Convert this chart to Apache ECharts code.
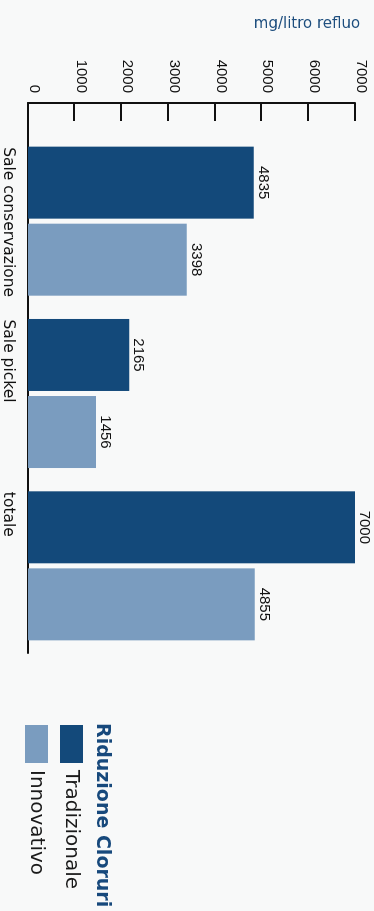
<!DOCTYPE html>
<html>
<head>
<meta charset="utf-8">
<script src="https://cdn.jsdelivr.net/npm/echarts@6/dist/echarts.min.js"></script>
<style>
html,body{margin:0;padding:0;background:#f8f9f9;overflow:hidden;width:374px;height:911px;}
#chart{position:absolute;left:0;top:0;width:911px;height:374px;transform-origin:0 0;transform:translate(374px,0) rotate(90deg);}
</style>
</head>
<body>
<div id="chart"></div>
<script>
var categories = ['Sale conservazione', 'Sale pickel', 'totale'];
var tradizionale = [4835, 2165, 7000];
var innovativo = [3398, 1456, 4855];
var seriesNames = ['Tradizionale', 'Innovativo'];
var titleText = 'Riduzione Cloruri';
var unitText = 'mg/litro refluo';
var valueMin = 0, valueMax = 7000, valueStep = 1000;

var TXT = 'DejaVu Sans';
var NUM = 'Liberation Sans';
var chart = echarts.init(document.getElementById('chart'), null, {renderer: 'canvas'});
chart.setOption({
  backgroundColor: '#f8f9f9',
  animation: false,
  title: {
    text: titleText, left: 723, top: 263, padding: 0,
    textStyle: {fontFamily: TXT, fontSize: 19, fontWeight: 'bold', color: '#17497c'}
  },
  legend: {
    data: seriesNames, orient: 'vertical', left: 725, top: 291, padding: 0,
    itemWidth: 38, itemHeight: 23, itemGap: 12, icon: 'rect', selectedMode: false,
    textStyle: {fontFamily: TXT, fontSize: 20, color: '#1a1a1a', lineHeight: 23, padding: [0, 0, 0, 2]}
  },
  graphic: [{
    type: 'text', x: 24, y: 67, rotation: Math.PI / 2,
    style: {text: unitText, fontFamily: TXT, fontSize: 15, fill: '#1d4e7e', align: 'center', verticalAlign: 'middle'}
  }],
  grid: [
    {left: 103, right: 258, top: 19, bottom: 28},
    {left: 135, right: 259, top: 19, bottom: 28}
  ],
  xAxis: [
    {gridIndex: 0, type: 'value', min: 0, max: 1,
     axisLine: {show: true, lineStyle: {color: '#111', width: 2}},
     axisTick: {show: false}, axisLabel: {show: false}, splitLine: {show: false}},
    {gridIndex: 1, type: 'category', data: categories,
     axisLine: {show: false}, axisTick: {show: false},
     axisLabel: {
       interval: 0, margin: 12, align: 'center', color: '#111', fontFamily: TXT, fontSize: 15.5,
       formatter: function (v) { return '{a|' + v + '}'; },
       rich: {a: {width: 148, align: 'left', fontFamily: TXT, fontSize: 15.5, color: '#111'}}
     }}
  ],
  yAxis: [
    {gridIndex: 0, type: 'value', min: valueMin, max: valueMax, interval: valueStep,
     axisLine: {show: true, lineStyle: {color: '#111', width: 2}},
     axisTick: {show: true, inside: true, length: 18, lineStyle: {color: '#111', width: 2}},
     axisLabel: {margin: 10, fontFamily: NUM, fontSize: 15, color: '#111', verticalAlign: 'bottom', lineHeight: 12,
       formatter: function (v) { return String(v); }},
     splitLine: {show: false}},
    {gridIndex: 1, type: 'value', min: valueMin, max: valueMax, show: false, splitLine: {show: false}}
  ],
  series: [
    {name: seriesNames[0], type: 'bar', xAxisIndex: 1, yAxisIndex: 1, data: tradizionale,
     barWidth: 72, barGap: '7%', itemStyle: {color: '#13497a'},
     label: {show: true, position: 'top', distance: 2, fontFamily: NUM, fontSize: 15, color: '#111'}},
    {name: seriesNames[1], type: 'bar', xAxisIndex: 1, yAxisIndex: 1, data: innovativo,
     barWidth: 72, barGap: '7%', itemStyle: {color: '#7a9cbf'},
     label: {show: true, position: 'top', distance: 2, fontFamily: NUM, fontSize: 15, color: '#111'}}
  ]
});
</script>
</body>
</html>
